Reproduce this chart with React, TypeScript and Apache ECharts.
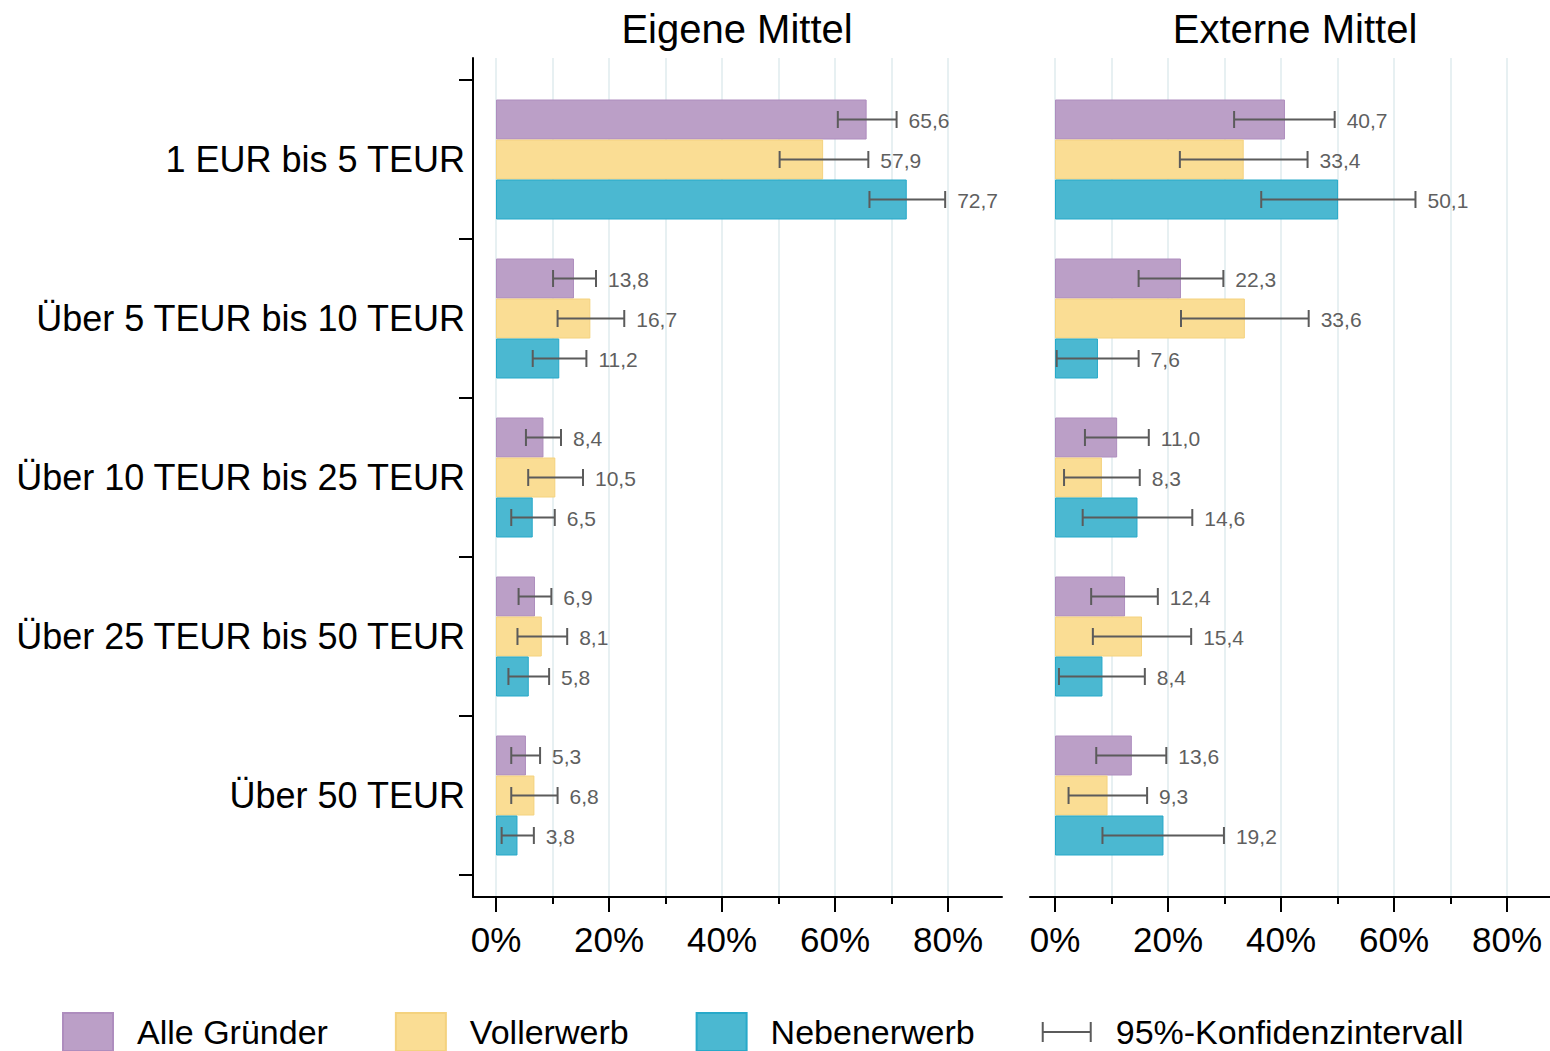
import React, { useEffect, useRef } from 'react';
import * as echarts from 'echarts';

// ---------- data ----------
const categories = [
  '1 EUR bis 5 TEUR',
  'Über 5 TEUR bis 10 TEUR',
  'Über 10 TEUR bis 25 TEUR',
  'Über 25 TEUR bis 50 TEUR',
  'Über 50 TEUR',
];
const groupNames = ['Alle Gründer', 'Vollerwerb', 'Nebenerwerb'];
const ciName = '95%-Konfidenzintervall';
const panelTitles = ['Eigene Mittel', 'Externe Mittel'];
const xMax = 80;
const xStep = 20;

// Eigene Mittel
const eigeneAlle = [65.6, 13.8, 8.4, 6.9, 5.3];
const eigeneVoll = [57.9, 16.7, 10.5, 8.1, 6.8];
const eigeneNeben = [72.7, 11.2, 6.5, 5.8, 3.8];
const eigeneAlleLo = [60.5, 10.1, 5.3, 4.0, 2.7];
const eigeneAlleHi = [70.9, 17.7, 11.5, 9.8, 7.8];
const eigeneVollLo = [50.2, 10.9, 5.7, 3.8, 2.7];
const eigeneVollHi = [65.9, 22.7, 15.4, 12.6, 10.9];
const eigeneNebenLo = [66.1, 6.5, 2.7, 2.2, 1.0];
const eigeneNebenHi = [79.5, 16.0, 10.4, 9.4, 6.7];

// Externe Mittel
const externeAlle = [40.7, 22.3, 11.0, 12.4, 13.6];
const externeVoll = [33.4, 33.6, 8.3, 15.4, 9.3];
const externeNeben = [50.1, 7.6, 14.6, 8.4, 19.2];
const externeAlleLo = [31.7, 14.8, 5.3, 6.4, 7.3];
const externeAlleHi = [49.5, 29.8, 16.6, 18.2, 19.7];
const externeVollLo = [22.1, 22.3, 1.6, 6.7, 2.4];
const externeVollHi = [44.7, 44.9, 15.0, 24.1, 16.3];
const externeNebenLo = [36.5, 0.3, 4.9, 0.7, 8.4];
const externeNebenHi = [63.8, 14.8, 24.3, 15.9, 29.9];

// ---------- styles ----------
const FONT = '"Liberation Sans", Arial, Helvetica, sans-serif';
const FILLS = ['#BB9FC7', '#FADD94', '#4BB8D1'];
const BORDERS = ['#AE8DBE', '#F4D27E', '#27A9C9'];
const CI_COLOR = '#5B5B5B';
const LABEL_COLOR = '#5F5F5F';
const GRID_COLOR = '#E7F0F2';
const BAR_W = 40;
const CI_ICON = 'path://M0,0h2v20h-2z M2,9h46v2h-46z M48,0h2v20h-2z';

const fmt = (v: number) => v.toFixed(1).replace('.', ',');

const panels = [
  {
    title: panelTitles[0],
    values: [eigeneAlle, eigeneVoll, eigeneNeben],
    lo: [eigeneAlleLo, eigeneVollLo, eigeneNebenLo],
    hi: [eigeneAlleHi, eigeneVollHi, eigeneNebenHi],
    outerLeft: 473, outerWidth: 529, zeroX: 496, showY: true, titleX: 737,
  },
  {
    title: panelTitles[1],
    values: [externeAlle, externeVoll, externeNeben],
    lo: [externeAlleLo, externeVollLo, externeNebenLo],
    hi: [externeAlleHi, externeVollHi, externeNebenHi],
    outerLeft: 1030, outerWidth: 520, zeroX: 1055, showY: false, titleX: 1295,
  },
];

const TOP_OUTER = 58;
const H_OUTER = 839;
const TOP_BAND = 80;
const H_BAND = 795;
const INNER_W = 452;

function renderCI(params: any, api: any) {
  const lo = api.value(0);
  const cat = api.value(1);
  const hi = api.value(2);
  const val = api.value(3);
  const g = api.value(4);
  const a = api.coord([lo, cat]);
  const b = api.coord([hi, cat]);
  const y = a[1] + (g - 1) * BAR_W;
  const st = { stroke: CI_COLOR, lineWidth: 2 };
  return {
    type: 'group',
    children: [
      { type: 'line', shape: { x1: a[0], y1: y, x2: b[0], y2: y }, style: st },
      { type: 'line', shape: { x1: a[0], y1: y - 8.5, x2: a[0], y2: y + 8.5 }, style: st },
      { type: 'line', shape: { x1: b[0], y1: y - 8.5, x2: b[0], y2: y + 8.5 }, style: st },
      {
        type: 'text',
        x: b[0] + 12,
        y: y + 1,
        style: {
          text: fmt(val),
          fill: LABEL_COLOR,
          font: `21px ${FONT}`,
          align: 'left',
          verticalAlign: 'middle',
        },
      },
    ],
  };
}

function buildOption() {
  const grid: any[] = [];
  const xAxis: any[] = [];
  const yAxis: any[] = [];
  const series: any[] = [];
  const graphic: any[] = [];
  const pxPerUnit = INNER_W / xMax;

  panels.forEach((p, pi) => {
    const base = pi * 3;
    // outer grid: axis lines only
    grid.push({ left: p.outerLeft, top: TOP_OUTER, width: p.outerWidth, height: H_OUTER });
    // tick/gridline grid
    grid.push({ left: p.zeroX, top: TOP_OUTER, width: INNER_W, height: H_OUTER });
    // bar grid (same horizontal extent as outer grid)
    grid.push({ left: p.outerLeft, top: TOP_BAND, width: p.outerWidth, height: H_BAND });

    xAxis.push({
      gridIndex: base, type: 'value', min: 0, max: 1,
      axisLine: { show: true, onZero: false, lineStyle: { color: '#000', width: 2 } },
      axisTick: { show: false }, axisLabel: { show: false }, splitLine: { show: false },
    });
    xAxis.push({
      gridIndex: base + 1, type: 'value', min: 0, max: xMax, interval: xStep,
      axisLine: { show: false, onZero: false },
      axisTick: { show: true, length: 15, lineStyle: { color: '#000', width: 2 } },
      minorTick: { show: true, splitNumber: 2, length: 7, lineStyle: { color: '#000', width: 2 } },
      axisLabel: {
        show: true, margin: 25, fontSize: 35, color: '#000', fontFamily: FONT,
        formatter: (v: number) => `${v}%`,
      },
      splitLine: { show: true, lineStyle: { color: GRID_COLOR, width: 2 } },
      minorSplitLine: { show: true, lineStyle: { color: GRID_COLOR, width: 2 } },
    });
    const barMin = -(p.zeroX - p.outerLeft) / pxPerUnit;
    const barMax = barMin + p.outerWidth / pxPerUnit;
    xAxis.push({ gridIndex: base + 2, type: 'value', min: barMin, max: barMax, show: false });

    yAxis.push({
      gridIndex: base, type: 'value', show: p.showY,
      axisLine: { show: p.showY, onZero: false, lineStyle: { color: '#000', width: 2 } },
      axisTick: { show: false }, axisLabel: { show: false }, splitLine: { show: false },
    });
    yAxis.push({ gridIndex: base + 1, type: 'value', show: false });
    yAxis.push({
      gridIndex: base + 2, type: 'category', data: categories, inverse: true,
      show: p.showY,
      axisLine: { show: false, onZero: false },
      axisTick: { show: true, length: 14, lineStyle: { color: '#000', width: 2 } },
      axisLabel: { show: true, margin: 8, fontSize: 36, color: '#000', fontFamily: FONT },
    });

    groupNames.forEach((name, gi) => {
      series.push({
        type: 'bar', name, xAxisIndex: base + 2, yAxisIndex: base + 2,
        data: p.values[gi], barWidth: BAR_W, barGap: '0%',
        itemStyle: { color: FILLS[gi], borderColor: BORDERS[gi], borderWidth: 1 },
        silent: true,
      });
    });

    const ciData: any[] = [];
    groupNames.forEach((_, gi) => {
      categories.forEach((_, ci) => {
        ciData.push([p.lo[gi][ci], ci, p.hi[gi][ci], p.values[gi][ci], gi]);
      });
    });
    series.push({
      type: 'custom', name: ciName, xAxisIndex: base + 2, yAxisIndex: base + 2,
      data: ciData, encode: { x: [0, 2], y: 1 }, renderItem: renderCI, clip: false, z: 5,
      itemStyle: { color: CI_COLOR }, silent: true,
    });

    graphic.push({
      type: 'text',
      x: p.titleX,
      y: 29,
      style: {
        text: p.title, font: `40px ${FONT}`, fill: '#000', align: 'center', verticalAlign: 'middle',
      },
    });
  });

  return {
    animation: false,
    backgroundColor: '#fff',
    textStyle: { fontFamily: FONT },
    grid,
    xAxis,
    yAxis,
    series,
    graphic,
    legend: {
      left: 62, top: 1012, padding: 0, itemWidth: 50, itemHeight: 38, itemGap: 67,
      selectedMode: false,
      textStyle: {
        fontSize: 34, lineHeight: 34, color: '#000', fontFamily: FONT, padding: [0, 0, 0, 19],
      },
      data: [
        ...groupNames.map((n) => ({ name: n, icon: 'rect' })),
        { name: ciName, icon: CI_ICON, itemStyle: { color: CI_COLOR, borderWidth: 0 } },
      ],
    },
  };
}

export default function App() {
  const ref = useRef<HTMLDivElement>(null);
  useEffect(() => {
    if (!ref.current) return;
    const chart = echarts.init(ref.current, null, { renderer: 'svg' });
    chart.setOption(buildOption() as any);
    return () => chart.dispose();
  }, []);
  return (
    <div
      ref={ref}
      style={{ position: 'absolute', left: 0, top: 0, width: 1550, height: 1051, overflow: 'hidden' }}
    />
  );
}
